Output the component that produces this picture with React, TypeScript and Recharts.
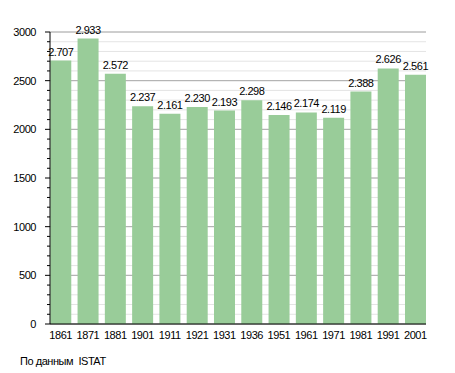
import React from 'react';
import { BarChart, Bar, XAxis, YAxis, CartesianGrid, LabelList } from 'recharts';

const years = ['1861', '1871', '1881', '1901', '1911', '1921', '1931', '1936', '1951', '1961', '1971', '1981', '1991', '2001'];
const population = [2707, 2933, 2572, 2237, 2161, 2230, 2193, 2298, 2146, 2174, 2119, 2388, 2626, 2561];
const minorTicks = [0, 100, 200, 300, 400, 500, 600, 700, 800, 900, 1000, 1100, 1200, 1300, 1400, 1500, 1600, 1700, 1800, 1900, 2000, 2100, 2200, 2300, 2400, 2500, 2600, 2700, 2800, 2900, 3000];
const majorTicks = [0, 500, 1000, 1500, 2000, 2500, 3000];
const sourceNote = 'По данным  ISTAT';

const data = years.map((y, i) => ({ year: y, value: population[i] }));

const FONT = '"Liberation Sans", Arial, sans-serif';
const FS = 11;
const LS = -0.45;

const fmt = (v: number) => {
  const s = String(v);
  return s.length > 3 ? s.slice(0, s.length - 3) + '.' + s.slice(s.length - 3) : s;
};

const YTick = (props: any) => {
  const { x, y, payload } = props;
  const v = payload.value as number;
  const isMajor = majorTicks.includes(v);
  const axisX = x + 14;
  const len = isMajor ? 5 : 3;
  return (
    <g>
      <line x1={axisX - len} x2={axisX} y1={y} y2={y} stroke="#000" strokeWidth={1} />
      {isMajor && (
        <text x={x} y={y} dy={4} textAnchor="end" fontSize={FS} letterSpacing={LS} fontFamily={FONT} fill="#000">
          {v}
        </text>
      )}
    </g>
  );
};

export default function App() {
  return (
    <div style={{ position: 'absolute', left: 0, top: 0, width: 455, height: 373, background: '#fff' }}>
      <BarChart
        width={455}
        height={373}
        data={data}
        margin={{ top: 32, right: 29, left: 0, bottom: 29 }}
        barCategoryGap="12%"
      >
        <CartesianGrid vertical={false} stroke="#e4e4e4" />
        <CartesianGrid vertical={false} stroke="#aaaaaa" horizontalValues={majorTicks} />
        <XAxis
          dataKey="year"
          height={20}
          padding={{ left: -3, right: -3 }}
          tickLine={false}
          axisLine={{ stroke: '#000' }}
          tick={{ fontSize: FS, fontFamily: FONT, fill: '#000', letterSpacing: LS }}
          tickMargin={1}
          interval={0}
        />
        <YAxis
          width={50}
          domain={[0, 3000]}
          ticks={minorTicks}
          interval={0}
          tickSize={5}
          tickMargin={9}
          tickLine={false}
          axisLine={{ stroke: '#000' }}
          tick={<YTick />}
        />
        <Bar dataKey="value" fill="#99cc99" isAnimationActive={false}>
          <LabelList
            dataKey="value"
            position="top"
            offset={5}
            formatter={(v: any) => fmt(v)}
            style={{ fontSize: FS, fontFamily: FONT, fill: '#000', letterSpacing: LS }}
          />
        </Bar>
      </BarChart>
      <div
        style={{
          position: 'absolute',
          left: 20,
          top: 355,
          fontSize: FS,
          letterSpacing: LS,
          fontFamily: FONT,
          color: '#000',
          whiteSpace: 'pre',
        }}
      >
        {sourceNote}
      </div>
    </div>
  );
}
